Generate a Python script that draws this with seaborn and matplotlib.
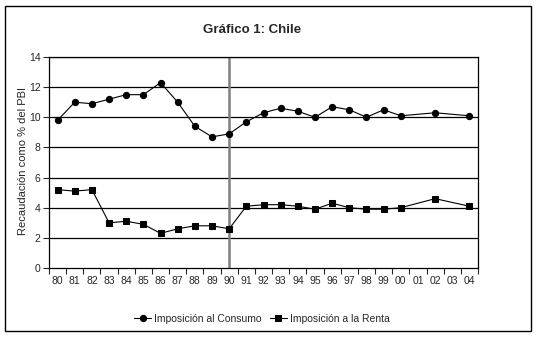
import numpy as np
import pandas as pd
import matplotlib
matplotlib.use("Agg")
import matplotlib.pyplot as plt
import seaborn as sns
from matplotlib.patches import Rectangle

years = ["80", "81", "82", "83", "84", "85", "86", "87", "88", "89", "90", "91", "92",
         "93", "94", "95", "96", "97", "98", "99", "00", "01", "02", "03", "04"]
consumo = [9.8, 11.0, 10.9, 11.2, 11.5, 11.5, 12.3, 11.0, 9.4, 8.7, 8.9, 9.7, 10.3,
           10.6, 10.4, 10.0, 10.7, 10.5, 10.0, 10.5, 10.1, np.nan, 10.3, np.nan, 10.1]
renta = [5.2, 5.1, 5.2, 3.0, 3.1, 2.9, 2.3, 2.6, 2.8, 2.8, 2.6, 4.1, 4.2,
         4.2, 4.1, 3.9, 4.3, 4.0, 3.9, 3.9, 4.0, np.nan, 4.6, np.nan, 4.1]
series_names = ["Imposición al Consumo", "Imposición a la Renta"]
yticks = [0, 2, 4, 6, 8, 10, 12, 14]

sns.set_style("white")
plt.rcParams['font.family'] = ['Liberation Sans', 'DejaVu Sans']

W, H = 539, 339
fig = plt.figure(figsize=(W / 100, H / 100), dpi=100)
fig.patch.set_facecolor("white")

L, R, T, B = 49, 478, 57, 268
ax = fig.add_axes([L / W, (H - B) / H, (R - L) / W, (B - T) / H])

pos = np.arange(len(years))
df = pd.DataFrame({"pos": pos, "consumo": consumo, "renta": renta})
dc = df[["pos", "consumo"]].dropna()
dr = df[["pos", "renta"]].dropna()

sns.lineplot(data=dc, x="pos", y="consumo", ax=ax, color="black", lw=0.8,
             marker="o", markersize=4.5, markeredgecolor="black",
             label=series_names[0], legend=False)
sns.lineplot(data=dr, x="pos", y="renta", ax=ax, color="black", lw=0.8,
             marker="s", markersize=5, markeredgecolor="black",
             label=series_names[1], legend=False)

ax.set_xlim(-0.5, len(years) - 0.5)
ax.set_ylim(0, 14)
ax.set_yticks(yticks)
ax.set_yticklabels([str(v) for v in yticks], fontsize=7.5)
for v in yticks[1:]:
    ax.axhline(v, color="black", lw=0.9, zorder=0)

ax.set_xticks(pos)
ax.set_xticklabels(years, fontsize=7.5)
ax.set_xticks(np.arange(-0.5, len(years), 1.0), minor=True)
ax.tick_params(axis="x", which="major", length=0, pad=6)
ax.tick_params(axis="x", which="minor", length=4, width=0.8, direction="out", bottom=True)
ax.tick_params(axis="y", which="major", length=4.5, width=0.8, direction="out", left=True, pad=1.5)

ax.axvline(10, color="#808080", lw=1.8, zorder=1)

for s in ax.spines.values():
    s.set_color("black")
    s.set_linewidth(0.9)

ax.set_xlabel("")
ax.set_ylabel("Recaudación como % del PBI", fontsize=8)
ax.yaxis.set_label_coords((28 - L) / (R - L), 0.505)
ax.set_facecolor("white")

fig.text(252 / W, 1 - 30 / H, "Gráfico 1: Chile", ha="center", va="center",
         fontsize=9.5, fontweight="bold")

handles, labels = ax.get_legend_handles_labels()
fig.legend(handles, labels, loc="center", bbox_to_anchor=(262 / W, 1 - 319 / H),
           ncol=2, frameon=False, fontsize=7.5, handlelength=1.6, handletextpad=0.3,
           columnspacing=0.8)

fig.patches.append(Rectangle((4.5 / W, (H - 331) / H), 526.5 / W, 325 / H,
                             transform=fig.transFigure, fill=False,
                             edgecolor="black", lw=1.0))

fig.savefig("out.png", dpi=100, facecolor="white")
